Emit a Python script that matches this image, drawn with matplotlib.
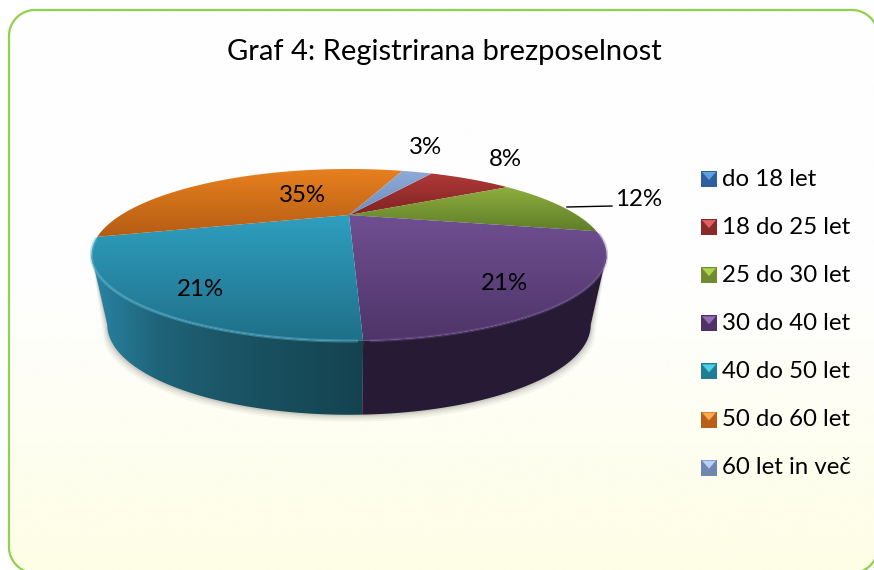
import numpy as np
import matplotlib
matplotlib.use('Agg')
import matplotlib.pyplot as plt
from matplotlib.patches import Polygon, Rectangle
from matplotlib.colors import LinearSegmentedColormap

plt.rcParams['font.family'] = ['Lato', 'DejaVu Sans']

categories = ['do 18 let', '18 do 25 let', '25 do 30 let', '30 do 40 let',
              '40 do 50 let', '50 do 60 let', '60 let in več']
values = [0, 8, 12, 21, 21, 35, 3]
top_colors = [('#4f81bd', '#2c5a94'), ('#b03a38', '#7f2322'), ('#8fb03f', '#5f7d28'),
              ('#6f4f92', '#4e3468'), ('#2f9fc0', '#1f6f88'), ('#e8801f', '#b45c14'),
              ('#8fabd8', '#6f8cbc')]
legend_base = ['#2f5f9e', '#8a2a2a', '#6f8a2f', '#4f3068', '#1f7f90', '#b8601a', '#6f86ae']
legend_tip = ['#5f9fe0', '#e06060', '#b0d050', '#9070b0', '#50d0e8', '#ffa850', '#b8d0f8']
title = 'Graf 4: Registrirana brezposelnost'

# label positions in pixels
label_pos = {1: (505, 159), 2: (639, 199), 3: (504, 284), 4: (200, 289), 5: (302, 195), 6: (425, 147)}
start_angle = 59.5
k = 0.465


def project(t, x0, y0, a, b):
    # circle seen in perspective, far side is smaller
    cx, sy = np.cos(t), np.sin(t)
    return x0 + a * cx / (1 + k * sy), y0 - b * sy / (1 + k * sy)


def top(t):
    return project(t, 349, 215, 228, 67.4)


def bottom(t):
    return project(t, 349, 283, 214, 70.5)


def grad(ax, clip, colors, extent, horizontal=False, zorder=2):
    cmap = LinearSegmentedColormap.from_list('g', colors)
    data = np.linspace(0, 1, 200).reshape(1, -1) if horizontal else np.linspace(0, 1, 200).reshape(-1, 1)
    im = ax.imshow(data, cmap=cmap, extent=extent, aspect='auto', zorder=zorder, interpolation='bilinear')
    im.set_clip_path(clip)


def rounded_box(x0, y0, x1, y1, r):
    a = np.linspace(0, np.pi / 2, 20)
    xs = np.r_[x1 - r + r * np.sin(a), x1 - r + r * np.cos(a), x0 + r - r * np.sin(a), x0 + r - r * np.cos(a)]
    ys = np.r_[y0 + r - r * np.cos(a), y1 - r + r * np.sin(a), y1 - r + r * np.cos(a), y0 + r - r * np.sin(a)]
    return np.c_[xs, ys]


fig = plt.figure(figsize=(8.74, 5.70), dpi=100)
ax = fig.add_axes([0, 0, 1, 1])
ax.axis('off')

# chart area
outline = rounded_box(9, 10, 878, 573, 26)
bg = Polygon(outline, closed=True, fc='none', ec='none', zorder=0)
ax.add_patch(bg)
grad(ax, bg, ['#fefefe', '#fefefe', '#fefee6'], (9, 878, 573, 10), zorder=0)
ax.add_patch(Polygon(outline, closed=True, fc='none', ec='#92d050', lw=1.6, zorder=1))

# wedge angles from the values
vals = np.array(values, dtype=float)
ends = start_angle - np.cumsum(vals) / vals.sum() * 360
starts = np.r_[start_angle, ends[:-1]]
t_front = np.radians(ends[3] + 360)

# the wall starts where the ellipse is widest
t_edge = np.arcsin(k)
t_left = np.pi + t_edge
t_right = 2 * np.pi - t_edge

# soft shadow under the wall
tt = np.linspace(t_left, t_right, 120)
for grow, alpha in [(7, 0.05), (5, 0.07), (3, 0.09), (1.5, 0.12)]:
    sx, sy = project(tt, 349, 283 + grow, 214 + grow * 0.6, 70.5)
    tx, ty = top(tt)
    ax.fill(np.r_[tx, sx[::-1]], np.r_[ty, sy[::-1]], color='#55554a', alpha=alpha, lw=0, zorder=1.5)

# side walls
t1 = np.linspace(t_left, t_front, 80)
x1, y1 = top(t1)
x2, y2 = bottom(t1)
wall1 = Polygon(np.c_[np.r_[x1, x2[::-1]], np.r_[y1, y2[::-1]]], closed=True, fc='none', ec='none')
ax.add_patch(wall1)
grad(ax, wall1, ['#2a85a5', '#1f6379', '#1b5566', '#174c5a', '#14434f'], (90, x1[-1] + 1, 420, 230), horizontal=True)
t2 = np.linspace(t_front, t_right, 80)
x1, y1 = top(t2)
x2, y2 = bottom(t2)
ax.add_patch(Polygon(np.c_[np.r_[x1, x2[::-1]], np.r_[y1, y2[::-1]]], closed=True, fc='#271a35', ec='none', zorder=2))

# top wedges
for i, v in enumerate(values):
    if v == 0:
        continue
    t = np.radians(np.linspace(starts[i], ends[i], 100))
    x, y = top(t)
    x = np.r_[349, x]
    y = np.r_[215, y]
    wedge = Polygon(np.c_[x, y], closed=True, fc='none', ec='none')
    ax.add_patch(wedge)
    grad(ax, wedge, top_colors[i], (x.min() - 2, x.max() + 2, y.max() + 1, y.min() - 1), zorder=3)

# bevel on the rim
for a0, a1, col, lw, al in [(198, 271, '#5fb8d4', 2.2, 0.45), (273, 345, '#7a5fa0', 2.2, 0.35)]:
    x, y = top(np.radians(np.linspace(a0, a1, 80)))
    ax.plot(x, y, color=col, lw=lw, alpha=al, zorder=4)

ax.text(444, 52, title, ha='center', va='center', fontsize=21, color='black', zorder=6)

for i, v in enumerate(values):
    if i in label_pos:
        ax.text(label_pos[i][0], label_pos[i][1], f'{v}%', ha='center', va='center', fontsize=17.3, color='black', zorder=6)
# leader line of the 12% label
ax.plot([567, 612], [207, 206], color='black', lw=1, zorder=5)

# legend
for i, cat in enumerate(categories):
    y = 179 + i * 48.1
    ax.add_patch(Rectangle((701, y - 8), 16, 16, fc=legend_base[i], ec='none', zorder=5))
    ax.add_patch(Polygon([(702, y - 7), (716, y - 7), (709, y + 1)], closed=True, fc=legend_tip[i], ec='none', zorder=6))
    ax.text(722, y, cat, ha='left', va='center', fontsize=17.3, color='black', zorder=6)

ax.set_xlim(0, 874)
ax.set_ylim(570, 0)

fig.savefig('out.png', dpi=100)
